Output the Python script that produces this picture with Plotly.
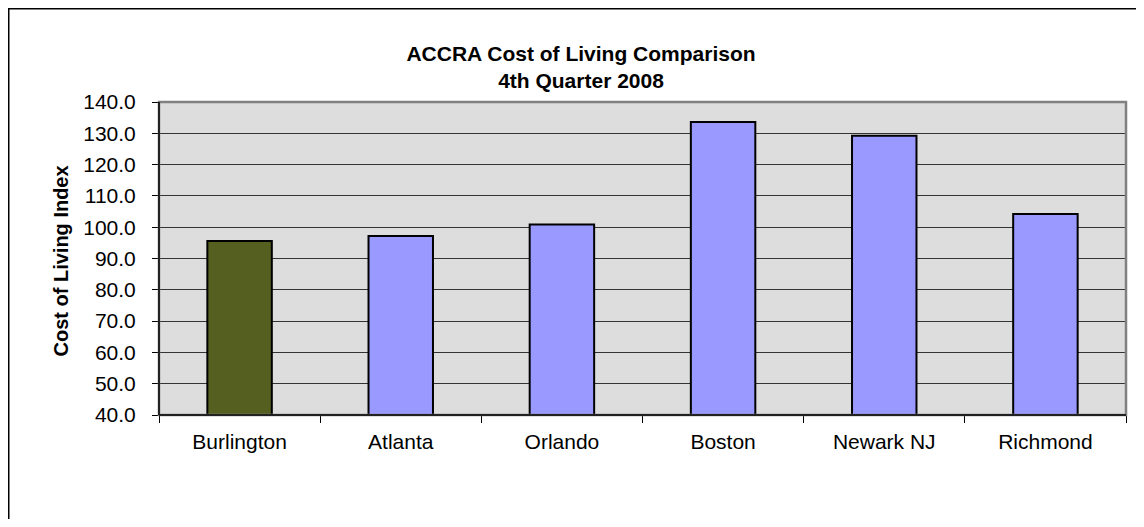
import plotly.graph_objects as go

cities = ["Burlington", "Atlanta", "Orlando", "Boston", "Newark NJ", "Richmond"]
index_values = [95.6, 97.2, 100.9, 133.6, 129.2, 104.2]
bar_colors = ["#556020", "#9999FF", "#9999FF", "#9999FF", "#9999FF", "#9999FF"]
y_ticks = [40, 50, 60, 70, 80, 90, 100, 110, 120, 130, 140]

W, H = 1128, 511
L, R, T, B = 151, 10, 94, 104
pw, ph = W - L - R, H - T - B

def px_x(p):
    return (p - L) / pw

def px_y(p):
    return (H - B - p) / ph

fig = go.Figure()
fig.add_trace(go.Bar(
    x=cities, y=index_values, base=0,
    marker=dict(color=bar_colors, line=dict(color="black", width=2)),
    width=0.40,
))

font = "Liberation Sans, Arial, sans-serif"
fig.update_layout(
    width=W, height=H,
    margin=dict(l=L, r=R, t=T, b=B),
    paper_bgcolor="white",
    plot_bgcolor="#DDDDDD",
    showlegend=False,
    font=dict(family=font, color="black", size=21),
    title=dict(
        text="<b>ACCRA Cost of Living Comparison<br>4th Quarter 2008</b>",
        font=dict(size=21, family=font, color="black"),
        x=573 / W, xanchor="center", xref="container",
        y=1 - 53 / H, yanchor="middle", yref="container",
    ),
    xaxis=dict(
        type="category",
        tickson="boundaries",
        ticks="outside", ticklen=7, tickcolor="black", tickwidth=1,
        showgrid=False, showline=False,
        tickfont=dict(size=21),
        ticklabelstandoff=12,
    ),
    yaxis=dict(
        range=[40, 140],
        tickvals=y_ticks,
        tickformat=".1f",
        ticks="outside", ticklen=6, tickcolor="black", tickwidth=1,
        showgrid=True, gridcolor="#333333", gridwidth=1,
        showline=False, zeroline=False,
        tickfont=dict(size=21),
        ticklabelstandoff=12,
    ),
    annotations=[
        dict(text="<b>Cost of Living Index</b>", textangle=-90,
             xref="paper", yref="paper", x=px_x(52.5), y=px_y(253),
             xanchor="center", yanchor="middle", showarrow=False,
             font=dict(size=20, family=font, color="black")),
    ],
    shapes=[
        dict(type="rect", xref="paper", yref="paper", x0=0, x1=1, y0=0, y1=1,
             line=dict(color="#808080", width=2.5), layer="above"),
        dict(type="line", xref="paper", yref="paper", x0=0, x1=0, y0=0, y1=1,
             line=dict(color="#222222", width=2), layer="above"),
        dict(type="line", xref="paper", yref="paper", x0=0, x1=1, y0=0, y1=0,
             line=dict(color="#222222", width=2), layer="above"),
        dict(type="rect", xref="paper", yref="paper",
             x0=px_x(0.75), x1=px_x(1160), y0=px_y(540), y1=px_y(0.75),
             line=dict(color="black", width=1.5), layer="above"),
    ],
)

fig.write_html("out.html")
